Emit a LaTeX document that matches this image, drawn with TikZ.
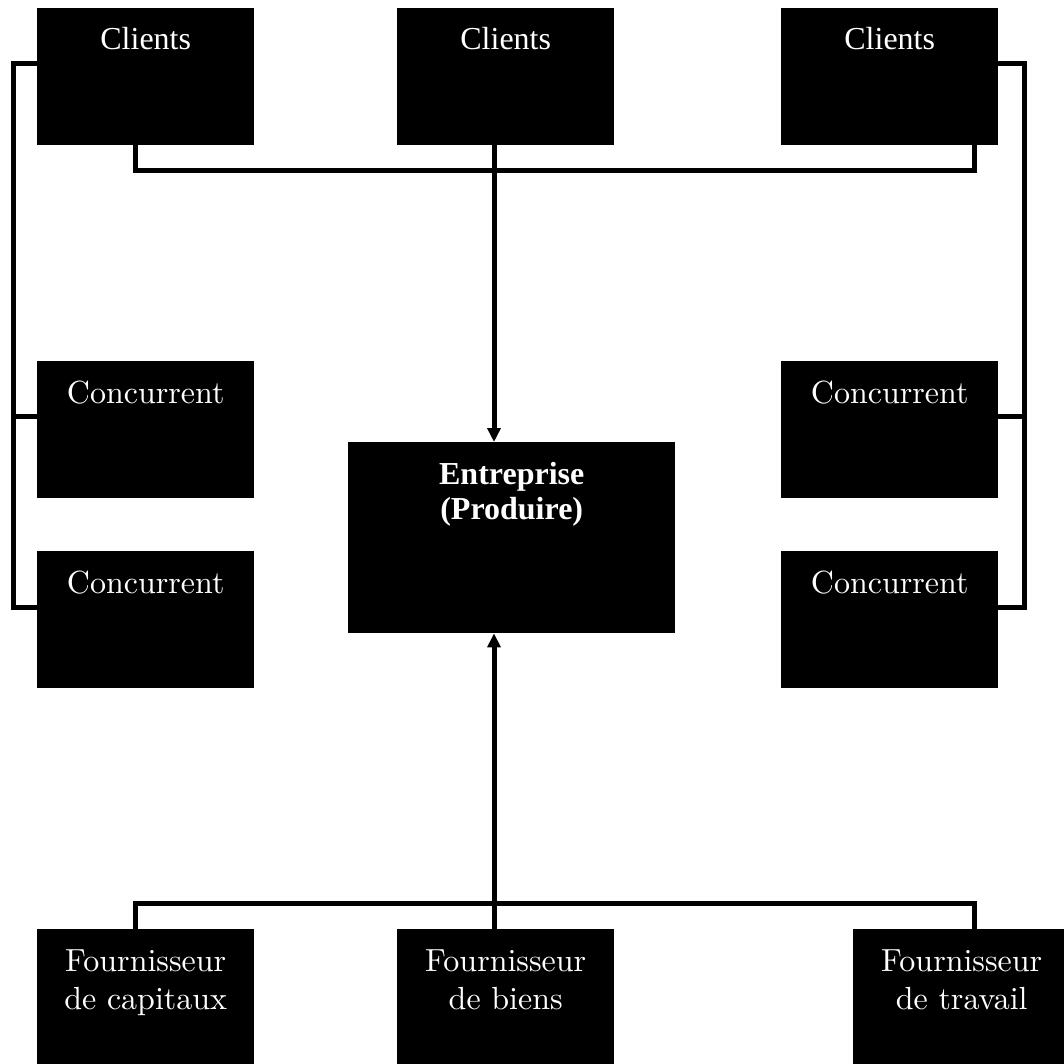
\documentclass[tikz,border=0pt]{standalone}
\usepackage{fontspec}
\setmainfont{Liberation Serif}
\newfontfamily\palfont[Extension=.otf]{lmroman10-regular}
\usetikzlibrary{arrows.meta}
\begin{document}
\begin{tikzpicture}[x=1pt,y=-1pt,
  box/.style={fill=black, draw=none, minimum width=217pt, minimum height=137pt, inner sep=0pt, anchor=north west},
  lbl/.style={text=white, anchor=base, inner sep=0pt, font=\fontsize{32}{38}\selectfont},
  lbltwo/.style={text=white, anchor=north, inner sep=0pt, align=center, font=\palfont\fontsize{32}{38}\selectfont},
  wire/.style={line width=5pt, line join=miter, draw=black},
  tip/.style={-{Triangle[width=13pt,length=14pt]}}]
\useasboundingbox (0,0) rectangle (1064,1064);
\clip (0,0) rectangle (1064,1064);
\fill[white] (0,0) rectangle (1064,1064);

% boxes
\node[box] (cl1) at (37,8) {};
\node[box] (cl2) at (397,8) {};
\node[box] (cl3) at (781,8) {};
\node[box] (co1) at (37,361) {};
\node[box] (co2) at (37,551) {};
\node[box] (co3) at (781,361) {};
\node[box] (co4) at (781,551) {};
\node[box, minimum width=327pt, minimum height=191pt] (ent) at (348,442) {};
\node[box] (f1) at (37,929) {};
\node[box] (f2) at (397,929) {};
\node[box] (f3) at (853,929) {};

% labels
\node[lbl] (tcl1) at ([yshift=-42pt]cl1.north) {Clients};
\node[lbl] (tcl2) at ([yshift=-42pt]cl2.north) {Clients};
\node[lbl] (tcl3) at ([yshift=-42pt]cl3.north) {Clients};
\node[lbl, font=\palfont\fontsize{32}{38}\selectfont] (tco1) at ([yshift=-42pt]co1.north) {Concurrent};
\node[lbl, font=\palfont\fontsize{32}{38}\selectfont] (tco2) at ([yshift=-42pt]co2.north) {Concurrent};
\node[lbl, font=\palfont\fontsize{32}{38}\selectfont] (tco3) at ([yshift=-42pt]co3.north) {Concurrent};
\node[lbl, font=\palfont\fontsize{32}{38}\selectfont] (tco4) at ([yshift=-42pt]co4.north) {Concurrent};
\node[lbltwo, font=\bfseries\fontsize{32}{35}\selectfont] (tent) at ([yshift=-20pt]ent.north) {Entreprise\\(Produire)};
\node[lbltwo] (tf1) at ([yshift=-21pt]f1.north) {Fournisseur\\de capitaux};
\node[lbltwo] (tf2) at ([yshift=-21pt]f2.north) {Fournisseur\\de biens};
\node[lbltwo] (tf3) at ([yshift=-21pt]f3.north) {Fournisseur\\de travail};

% guide coordinates
\coordinate (xm) at (494,0);
\coordinate (xl) at (135,0);
\coordinate (xr) at (974,0);
\coordinate (xL) at (13,0);
\coordinate (xR) at (1024,0);
\coordinate (ytop) at (0,171);
\coordinate (ybot) at (0,903);
\coordinate (y1) at (0,64);
\coordinate (y2) at (0,416);
\coordinate (y3) at (0,607);

% top bus
\draw[wire] (cl1.south -| xl) |- (xr |- ytop) -- (cl3.south -| xr);
% left side
\draw[wire] (cl1.west |- y1) -| (xL |- y3) -- (co2.west |- y3);
\draw[wire] (xL |- y2) -- (co1.west |- y2);
% right side
\draw[wire] (cl3.east |- y1) -| (xR |- y3) -- (co4.east |- y3);
\draw[wire] (xR |- y2) -- (co3.east |- y2);
% bottom bus
\draw[wire] (f1.north -| xl) |- (xr |- ybot) -- (f3.north -| xr);
% arrows
\draw[wire, tip] (cl2.south -| xm) -- (ent.north -| xm);
\draw[wire, tip] (f2.north -| xm) -- (ent.south -| xm);
\end{tikzpicture}
\end{document}
